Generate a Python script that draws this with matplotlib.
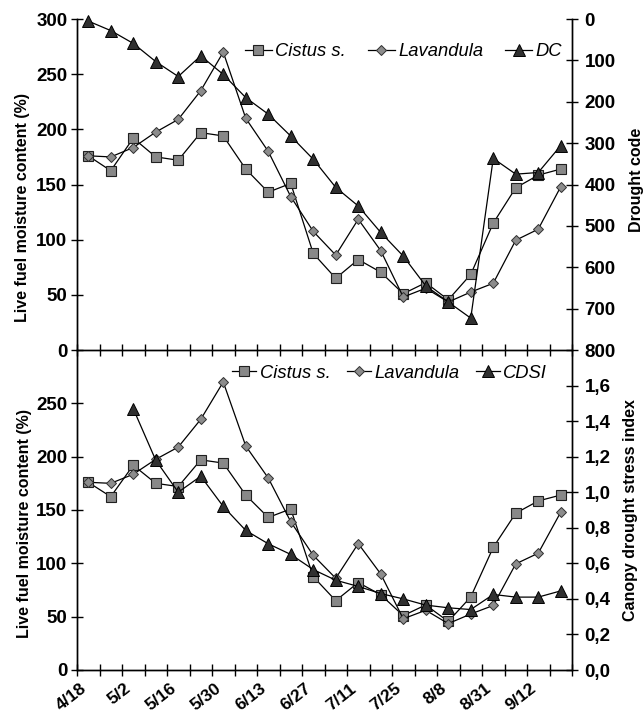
import matplotlib
matplotlib.use('Agg')
import matplotlib.pyplot as plt
import matplotlib.transforms as mtransforms
import numpy as np
from matplotlib.ticker import FixedLocator, FuncFormatter, NullFormatter

plt.rcParams['font.family'] = ['Liberation Sans', 'DejaVu Sans']

# ---- data ----
date_labels = ['4/18', '5/2', '5/16', '5/30', '6/13', '6/27', '7/11', '7/25', '8/8', '8/31', '9/12']
cistus = [176, 162.5, 192, 175, 172, 197, 194, 164, 143, 151, 87.5,
          65, 82, 70.5, 51, 61, 45.5, 68.5, 115, 147, 158.5, 164]
lavandula = [176, 175, 183.5, 197.5, 209, 235, 270, 210, 180, 139, 107.5,
             86, 118.5, 90, 48, 56, 43.5, 52.5, 60.5, 99.5, 109.5, 148]
dc = [5, 28, 59, 103, 139, 89, 134, 190, 230, 283, 339,
      407, 452, 516, 573, 645, 684, 723, 337, 375, 371, 306]
cdsi = [np.nan, np.nan, 1.47, 1.18, 1.0, 1.09, 0.92, 0.785, 0.71, 0.65, 0.565,
        0.505, 0.47, 0.43, 0.40, 0.365, 0.35, 0.34, 0.425, 0.41, 0.41, 0.445]
lfmc_ticks = [0, 50, 100, 150, 200, 250, 300]
dc_ticks = [0, 100, 200, 300, 400, 500, 600, 700, 800]
cdsi_ticks = [0.0, 0.2, 0.4, 0.6, 0.8, 1.0, 1.2, 1.4, 1.6]

n = len(cistus)
x = np.arange(n) + 0.5

W, H = 643, 713
fig = plt.figure(figsize=(W / 100, H / 100), dpi=100)
L, R = 77 / W, 572 / W
ax1 = fig.add_axes([L, (H - 350) / H, R - L, 331 / H])
ax1r = ax1.twinx()
ax2 = fig.add_axes([L, (H - 670) / H, R - L, 320 / H])
ax2r = ax2.twinx()

sq = dict(marker='s', ms=7.6, mfc='#888888', mec='#202020', mew=0.8, color='black', lw=0.9)
di = dict(marker='D', ms=5.6, mfc='#8c8c8c', mec='#303030', mew=0.7, color='black', lw=0.9)
tr = dict(marker='^', ms=8.5, mfc='#303030', mec='black', mew=0.7, color='black', lw=0.9)

TICK_FS = 13.5
labfont = dict(fontsize=11.5, fontweight='bold')
legprop = dict(size=13.2, style='italic')

# ---- top panel ----
h1, = ax1.plot(x, cistus, **sq, clip_on=False, zorder=3)
h2, = ax1.plot(x, lavandula, **di, clip_on=False, zorder=4)
h3, = ax1r.plot(x, dc, **tr, clip_on=False, zorder=5)
ax1.set_ylim(0, 300)
ax1r.set_ylim(800, 0)
ax1.set_xlim(0, n)

# ---- bottom panel ----
g1, = ax2.plot(x, cistus, **sq, clip_on=False, zorder=3)
g2, = ax2.plot(x, lavandula, **di, clip_on=False, zorder=4)
g3, = ax2r.plot(x, cdsi, **tr, clip_on=False, zorder=5)
ax2.set_ylim(0, 300)
ax2r.set_ylim(0, 1.8)
ax2.set_xlim(0, n)

for a in (ax1, ax1r, ax2, ax2r):
    a.set_facecolor('none')
    a.spines['top'].set_visible(False)
    for s in ('left', 'right', 'bottom'):
        a.spines[s].set_linewidth(1.0)
        a.spines[s].set_color('black')
    a.tick_params(axis='both', which='major', direction='inout', length=8, width=1.0,
                  colors='black', labelsize=TICK_FS)

# y axes
ax1.yaxis.set_major_locator(FixedLocator(lfmc_ticks))
ax1r.yaxis.set_major_locator(FixedLocator(dc_ticks))
ax2.yaxis.set_major_locator(FixedLocator(lfmc_ticks[:-1]))
ax2r.yaxis.set_major_locator(FixedLocator(cdsi_ticks))
ax2r.yaxis.set_major_formatter(FuncFormatter(lambda v, p: f'{v:.1f}'.replace('.', ',')))
for a in (ax1, ax2):
    a.tick_params(axis='y', pad=3)
for a in (ax1r, ax2r):
    a.tick_params(axis='y', pad=5)
for a in (ax1, ax1r, ax2, ax2r):
    for lab in a.get_yticklabels():
        lab.set_fontweight('bold')
        lab.set_fontsize(TICK_FS)

# x axes: tick marks at category boundaries, labels at every other category centre
for a in (ax1, ax2):
    a.xaxis.set_major_locator(FixedLocator(np.arange(0, n + 1)))
    a.xaxis.set_major_formatter(NullFormatter())
ax1.tick_params(axis='x', which='both', labelbottom=False)
for a in (ax1r, ax2r):
    a.tick_params(axis='x', which='both', bottom=False, labelbottom=False)
ax2.set_xticks(x[::2], date_labels, minor=True)
ax2.tick_params(axis='x', which='minor', length=0, pad=12)
offset = mtransforms.ScaledTranslation(-4 / 100, 0, fig.dpi_scale_trans)
for lab in ax2.get_xticklabels(minor=True):
    lab.set_rotation(38)
    lab.set_ha('right')
    lab.set_va('center')
    lab.set_rotation_mode('anchor')
    lab.set_fontweight('bold')
    lab.set_fontsize(12.5)
    lab.set_transform(lab.get_transform() + offset)

# axis labels
ax1.set_ylabel('Live fuel moisture content (%)', **labfont)
ax1.yaxis.set_label_coords(-0.095, 0.432)
ax2.set_ylabel('Live fuel moisture content (%)', **labfont)
ax2.yaxis.set_label_coords(-0.091, 0.459)
ax1r.set_ylabel('Drought code', **labfont)
ax1r.yaxis.set_label_coords(1.115, 0.514)
ax2r.set_ylabel('Canopy drought stress index', **labfont)
ax2r.yaxis.set_label_coords(1.103, 0.5)

# legends
leg1 = ax1r.legend([h1, h2, h3], ['Cistus s.', 'Lavandula', 'DC'], loc='center left',
                   bbox_to_anchor=(245 / W, 1 - 52 / H), bbox_transform=fig.transFigure,
                   ncol=3, frameon=False, borderpad=0, borderaxespad=0,
                   handlelength=1.45, handletextpad=0.2, columnspacing=1.2, prop=legprop)
leg2 = ax2r.legend([g1, g2, g3], ['Cistus s.', 'Lavandula', 'CDSI'], loc='center left',
                   bbox_to_anchor=(232 / W, 1 - 373 / H), bbox_transform=fig.transFigure,
                   ncol=3, frameon=False, borderpad=0, borderaxespad=0,
                   handlelength=1.3, handletextpad=0.2, columnspacing=0.9, prop=legprop)

fig.savefig('out.png', dpi=100, facecolor='white')
